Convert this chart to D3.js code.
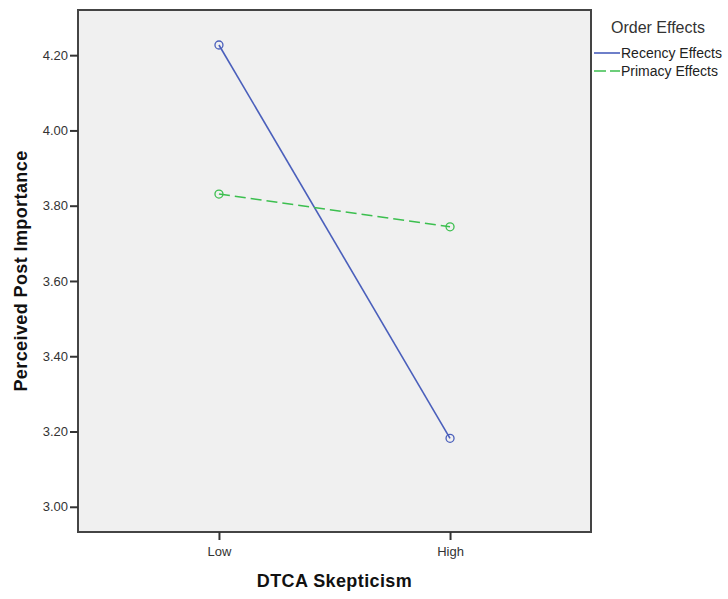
<!DOCTYPE html>
<html>
<head>
<meta charset="utf-8">
<script src="https://cdn.jsdelivr.net/npm/d3@7"></script>
<style>
  body { margin: 0; background: #fff; }
  text { font-family: Arial, "Liberation Sans", sans-serif; }
</style>
</head>
<body>
<svg id="chart" width="728" height="599"></svg>
<script>
// data
var categories = ["Low", "High"];
var seriesNames = ["Recency Effects", "Primacy Effects"];
var recencyValues = [4.227, 3.182];
var primacyValues = [3.831, 3.744];
var yTicks = [3.00, 3.20, 3.40, 3.60, 3.80, 4.00, 4.20];

var series = [
    { name: seriesNames[0], values: recencyValues, color: "#4a5fbb", dash: null },
    { name: seriesNames[1], values: primacyValues, color: "#3cbf4f", dash: "11,5" }
];

// plot box (named so they don't clash with window.top)
var plotLeft = 78, plotRight = 591, plotTop = 10, plotBottom = 532;
var svg = d3.select("#chart");

var x = d3.scalePoint()
    .domain(categories)
    .range([plotLeft, plotRight])
    .padding(0.61);

var y = d3.scaleLinear()
    .domain([2.933, 4.32])
    .range([plotBottom, plotTop]);

// plot background
svg.append("rect")
    .attr("x", plotLeft)
    .attr("y", plotTop)
    .attr("width", plotRight - plotLeft)
    .attr("height", plotBottom - plotTop)
    .attr("fill", "#f0f0f0")
    .attr("stroke", "#444")
    .attr("stroke-width", 2);

// y axis
var yAxis = svg.append("g")
    .attr("transform", "translate(" + plotLeft + ",0)")
    .call(d3.axisLeft(y).tickValues(yTicks).tickFormat(d3.format(".2f")).tickSize(8).tickSizeOuter(0));
yAxis.select(".domain").remove();
yAxis.selectAll("line").attr("stroke", "#333").attr("stroke-width", 2);
yAxis.selectAll("text")
    .attr("x", -10)
    .attr("fill", "#333")
    .style("font-size", "13px");

// x axis
var xAxis = svg.append("g")
    .attr("transform", "translate(0," + plotBottom + ")")
    .call(d3.axisBottom(x).tickSize(8).tickSizeOuter(0));
xAxis.select(".domain").remove();
xAxis.selectAll("line").attr("stroke", "#333").attr("stroke-width", 2);
xAxis.selectAll("text")
    .attr("y", 15)
    .attr("fill", "#333")
    .style("font-size", "13px");

// axis titles
svg.append("text")
    .attr("x", (plotLeft + plotRight) / 2)
    .attr("y", 587)
    .attr("text-anchor", "middle")
    .style("font-size", "18px")
    .style("font-weight", "bold")
    .style("letter-spacing", "0.4px")
    .attr("fill", "#111")
    .text("DTCA Skepticism");

svg.append("text")
    .attr("transform", "translate(27," + (plotTop + plotBottom) / 2 + ") rotate(-90)")
    .attr("text-anchor", "middle")
    .style("font-size", "18px")
    .style("font-weight", "bold")
    .style("letter-spacing", "0.4px")
    .attr("fill", "#111")
    .text("Perceived Post Importance");

// lines + markers
var line = d3.line()
    .x(function(d, i) { return x(categories[i]); })
    .y(function(d) { return y(d); });

var groups = svg.selectAll(".series")
    .data(series)
    .enter()
    .append("g")
    .attr("class", "series");

groups.append("path")
    .attr("d", function(d) { return line(d.values); })
    .attr("fill", "none")
    .attr("stroke", function(d) { return d.color; })
    .attr("stroke-width", 1.6)
    .attr("stroke-dasharray", function(d) { return d.dash; });

groups.selectAll("circle")
    .data(function(d) { return d.values.map(function(v, i) { return { v: v, i: i, color: d.color }; }); })
    .enter()
    .append("circle")
    .attr("cx", function(d) { return x(categories[d.i]); })
    .attr("cy", function(d) { return y(d.v); })
    .attr("r", 4)
    .attr("fill", "none")
    .attr("stroke", function(d) { return d.color; })
    .attr("stroke-width", 1.3);

// legend
var legend = svg.append("g");
legend.append("text")
    .attr("x", 611)
    .attr("y", 33)
    .style("font-size", "16px")
    .attr("fill", "#333")
    .text("Order Effects");

var items = legend.selectAll(".item")
    .data(series)
    .enter()
    .append("g")
    .attr("class", "item")
    .attr("transform", function(d, i) { return "translate(0," + (53 + i * 18) + ")"; });

items.append("line")
    .attr("x1", 594)
    .attr("x2", 620)
    .attr("stroke", function(d) { return d.color; })
    .attr("stroke-width", 1.6)
    .attr("stroke-dasharray", function(d) { return d.dash ? "12,4" : null; });

items.append("text")
    .attr("x", 621)
    .attr("y", 5)
    .style("font-size", "14px")
    .attr("fill", "#222")
    .text(function(d) { return d.name; });
</script>
</body>
</html>
